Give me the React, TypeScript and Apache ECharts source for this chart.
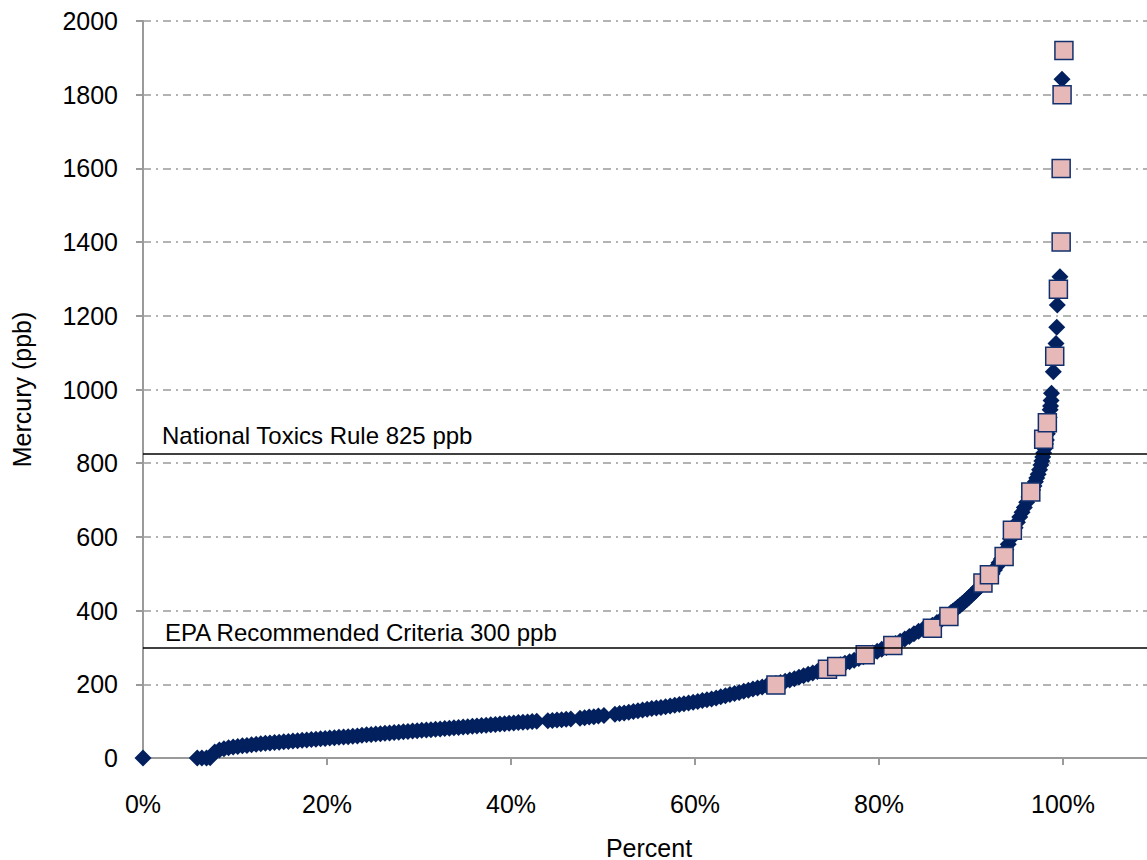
import React, { useEffect, useRef } from 'react';
import * as echarts from 'echarts';

// Cumulative distribution: [percent, mercury ppb]
const diamondPoints: [number, number][] = [
  [0, 0],
  [5.9, 0], [6.4, 0], [6.9, 0], [7.3, 1], [7.8, 16], [8.3, 22], [8.8, 25], [9.3, 28], [9.8, 30],
  [10.3, 31], [10.8, 33], [11.3, 34], [11.8, 36], [12.3, 37], [12.8, 39], [13.3, 40], [13.8, 41], [14.3, 42], [14.8, 43],
  [15.3, 44], [15.8, 45], [16.3, 46], [16.8, 47], [17.3, 48], [17.8, 49], [18.3, 50], [18.8, 51], [19.3, 52], [19.8, 53],
  [20.3, 54], [20.8, 55], [21.3, 56], [21.8, 57], [22.3, 58], [22.8, 59], [23.3, 60], [23.8, 62], [24.3, 63], [24.8, 64],
  [25.3, 65], [25.8, 66], [26.3, 67], [26.8, 68], [27.3, 69], [27.8, 70], [28.3, 71], [28.8, 72], [29.3, 73], [29.8, 74],
  [30.3, 75], [30.8, 76], [31.3, 77], [31.8, 78], [32.3, 79], [32.8, 80], [33.3, 81], [33.8, 82], [34.3, 83], [34.8, 84],
  [35.3, 85], [35.8, 86], [36.3, 87], [36.8, 88], [37.3, 89], [37.8, 90], [38.3, 91], [38.8, 92], [39.3, 93], [39.8, 94],
  [40.3, 95], [40.8, 96], [41.3, 97], [41.8, 98], [42.3, 99], [42.8, 100],
  [44.0, 101], [44.5, 102], [45.0, 103], [45.5, 104], [46.0, 105], [46.5, 106],
  [47.5, 108], [48.0, 109], [48.5, 111], [49.0, 112], [49.5, 114], [50.1, 115],
  [51.3, 119], [51.8, 121], [52.3, 122], [52.8, 124], [53.3, 126], [53.8, 128], [54.3, 130], [54.8, 132],
  [55.3, 134], [55.8, 136], [56.3, 137], [56.8, 139], [57.3, 141], [57.8, 143], [58.3, 145], [58.8, 147], [59.3, 149], [59.8, 151],
  [60.3, 153], [60.8, 156], [61.3, 158], [61.8, 160], [62.3, 163], [62.8, 166], [63.3, 169], [63.8, 172], [64.3, 175], [64.8, 178],
  [65.3, 181], [65.8, 184], [66.3, 187], [66.8, 190], [67.3, 193], [67.8, 196], [68.3, 199], [68.8, 202], [69.3, 205], [69.8, 208],
  [70.3, 212], [70.8, 215], [71.3, 219], [71.8, 223], [72.3, 227], [72.8, 231], [73.3, 235], [73.8, 238], [74.3, 241], [74.8, 245],
  [75.3, 249], [75.8, 253], [76.3, 257], [76.8, 261], [77.3, 265], [77.8, 270], [78.3, 275], [78.8, 280], [79.3, 285], [79.8, 290],
  [80.3, 295], [80.8, 300], [81.3, 305], [81.8, 311], [82.3, 317], [82.8, 323], [83.3, 330], [83.8, 337], [84.3, 344], [84.8, 350],
  [85.3, 355], [85.8, 360], [86.3, 368], [86.8, 376], [87.3, 385], [87.8, 394],
  [88.05, 399], [88.3, 404], [88.55, 409], [88.8, 414], [89.05, 419], [89.3, 425], [89.55, 430], [89.8, 436],
  [90.05, 442], [90.3, 448], [90.55, 454], [90.8, 461], [91.05, 467], [91.3, 474], [91.55, 480], [91.8, 487],
  [92.05, 493], [92.3, 500], [92.55, 510], [92.8, 520], [93.05, 530], [93.3, 540], [93.55, 552], [93.8, 565],
  [94.05, 580], [94.3, 595], [94.55, 610], [94.8, 625], [95.05, 640], [95.3, 654], [95.55, 667], [95.8, 680],
  [96.05, 694], [96.3, 708], [96.5, 718], [96.7, 727], [96.85, 738], [97.0, 750], [97.15, 760], [97.3, 770],
  [97.45, 782], [97.6, 795], [97.7, 806], [97.8, 817], [97.9, 828], [98.0, 840], [98.1, 852], [98.2, 863], [98.3, 880],
  [98.4, 900], [98.45, 912], [98.5, 925], [98.6, 945], [98.65, 955], [98.7, 970], [98.75, 990],
  [98.95, 1048], [99.24, 1125], [99.32, 1169], [99.38, 1229], [99.67, 1306], [99.89, 1842],
];

const squarePoints: [number, number][] = [
  [68.8, 198], [74.4, 241], [75.4, 248], [78.5, 280], [81.5, 305], [85.8, 352], [87.6, 384],
  [91.3, 475], [92.0, 497], [93.6, 547], [94.5, 618], [96.5, 722], [97.9, 865], [98.3, 910],
  [99.1, 1090], [99.5, 1272], [99.8, 1400], [99.8, 1600], [99.9, 1800], [100.1, 1920],
];

const refValues = [825, 300];
const refLabels = ['National Toxics Rule 825 ppb', 'EPA Recommended Criteria 300 ppb'];
const refLabelDx = [19, 22];
const refLabelDy = [-18, -15];

const FONT = "'Liberation Sans', Arial, sans-serif";

export default function App() {
  const ref = useRef<HTMLDivElement>(null);
  useEffect(() => {
    const chart = echarts.init(ref.current!, null, { renderer: 'svg' });
    const axisGray = '#9a9a9a';
    chart.setOption({
      animation: false,
      backgroundColor: '#ffffff',
      grid: { left: 143, top: 21, bottom: 102, right: -8, containLabel: false, outerBoundsMode: 'none' },
      xAxis: {
        type: 'value',
        min: 0,
        max: 110,
        interval: 20,
        name: 'Percent',
        nameLocation: 'middle',
        nameGap: 77,
        nameTextStyle: { fontFamily: FONT, fontSize: 25, color: '#000' },
        axisLine: { show: true, onZero: false, lineStyle: { color: axisGray, width: 2 } },
        axisTick: { show: true, inside: false, length: 7, lineStyle: { color: axisGray, width: 2 } },
        axisLabel: {
          fontFamily: FONT, fontSize: 25, color: '#000', margin: 33,
          formatter: (v: number) => (v <= 100 ? `${v}%` : ''),
        },
        splitLine: { show: false },
      },
      yAxis: {
        type: 'value',
        min: 0,
        max: 2000,
        interval: 200,
        name: 'Mercury (ppb)',
        nameLocation: 'middle',
        nameGap: 109,
        nameTextStyle: { fontFamily: FONT, fontSize: 25, color: '#000' },
        axisLine: { show: true, lineStyle: { color: axisGray, width: 2 } },
        axisTick: { show: true, inside: false, length: 7, lineStyle: { color: axisGray, width: 2 } },
        axisLabel: {
          fontFamily: FONT, fontSize: 25, color: '#000', margin: 25,
          formatter: (v: number) => String(v),
        },
        splitLine: { show: true, lineStyle: { color: axisGray, width: 1.5, type: [8, 5, 2, 5] } },
      },
      series: [
        {
          type: 'scatter',
          data: diamondPoints,
          symbol: 'diamond',
          symbolSize: 17,
          itemStyle: { color: '#02205E', opacity: 1 },
          z: 2,
        },
        {
          type: 'scatter',
          data: squarePoints,
          symbol: 'rect',
          symbolSize: 18,
          itemStyle: { color: '#E6B8B7', borderColor: '#12306E', borderWidth: 1.5, opacity: 1 },
          z: 3,
        },
        {
          type: 'scatter',
          data: [],
          z: 4,
          markLine: {
            silent: true,
            symbol: 'none',
            label: { show: false },
            lineStyle: { color: '#000', width: 1.5, type: 'solid' },
            data: refValues.map((v) => ({ yAxis: v })),
          },
        },
      ],
    });
    const graphics = refValues.map((v, i) => {
      const p = chart.convertToPixel({ gridIndex: 0 }, [0, v]) as number[];
      return {
        type: 'text',
        x: p[0] + refLabelDx[i],
        y: p[1] + refLabelDy[i],
        z: 10,
        style: {
          text: refLabels[i],
          fontFamily: FONT,
          fontSize: 24,
          fill: '#000',
          align: 'left',
          verticalAlign: 'middle',
        },
      };
    });
    chart.setOption({ graphic: graphics });
    return () => chart.dispose();
  }, []);
  return (
    <div
      ref={ref}
      style={{ position: 'absolute', left: 0, top: 0, width: 1147, height: 860, overflow: 'hidden' }}
    />
  );
}
